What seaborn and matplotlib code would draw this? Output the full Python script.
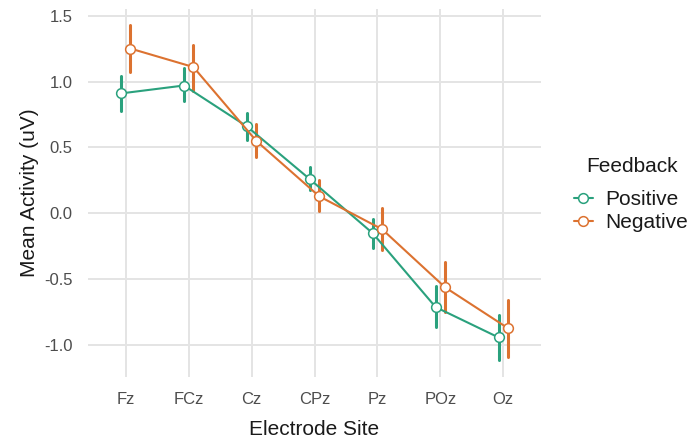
import matplotlib
matplotlib.use("Agg")
import matplotlib.pyplot as plt
from matplotlib.lines import Line2D
import pandas as pd
import seaborn as sns

# Electrode sites and feedback conditions
sites = ["Fz", "FCz", "Cz", "CPz", "Pz", "POz", "Oz"]
conditions = ["Positive", "Negative"]

# Mean activity (uV) with lower/upper error limits per condition
pos_mean = [0.91, 0.97, 0.66, 0.26, -0.15, -0.71, -0.94]
pos_low = [0.78, 0.85, 0.56, 0.18, -0.26, -0.86, -1.11]
pos_high = [1.04, 1.10, 0.76, 0.35, -0.04, -0.55, -0.77]

neg_mean = [1.25, 1.11, 0.55, 0.13, -0.12, -0.56, -0.87]
neg_low = [1.07, 0.93, 0.43, 0.02, -0.28, -0.75, -1.09]
neg_high = [1.43, 1.28, 0.68, 0.25, 0.04, -0.37, -0.66]

colors = ["#2AA17D", "#DC7230"]

# Long table: each site/condition holds its low, mean and high value, so the
# median is the mean and the full-range interval spans the error bar.
rows = []
for cond, lo, mid, hi in [("Positive", pos_low, pos_mean, pos_high),
                          ("Negative", neg_low, neg_mean, neg_high)]:
    for s, a, b, c in zip(sites, lo, mid, hi):
        for v in (a, b, c):
            rows.append({"site": s, "feedback": cond, "value": v})
df = pd.DataFrame(rows)

sns.set_theme(style="white")
plt.rcParams["font.family"] = ["Liberation Sans", "DejaVu Sans"]
plt.rcParams["axes.unicode_minus"] = False

fig = plt.figure(figsize=(6.91, 4.41), dpi=100)
ax = fig.add_axes([88 / 691, 1 - 377 / 441, (541 - 88) / 691, (377 - 9) / 441])

sns.pointplot(
    data=df, x="site", y="value", hue="feedback",
    order=sites, hue_order=conditions, palette=colors,
    estimator="median", errorbar=("pi", 100), dodge=0.15,
    markers="o", linestyles="-", markersize=7, linewidth=1.5,
    markerfacecolor="white", markeredgewidth=1.1, zorder=3,
    err_kws={"linewidth": 2.2, "zorder": 2},
    legend=False, ax=ax,
)

ax.set_xlim(-0.6, 6.6)
ax.set_ylim(-1.24, 1.55)
ax.set_yticks([-1.0, -0.5, 0.0, 0.5, 1.0, 1.5])
ax.set_yticklabels([f"{t:.1f}" for t in [-1.0, -0.5, 0.0, 0.5, 1.0, 1.5]])

ax.grid(True, color="#e4e4e4", linewidth=1.4)
ax.set_axisbelow(True)
for sp in ax.spines.values():
    sp.set_visible(False)
ax.tick_params(axis="both", length=0, pad=11, labelsize=12, labelcolor="#4d4d4d")

ax.set_xlabel("Electrode Site", fontsize=15, color="#1a1a1a", labelpad=9)
ax.set_ylabel("Mean Activity (uV)", fontsize=15, color="#1a1a1a", labelpad=4)

handles = [
    Line2D([], [], color=c, marker="o", markersize=7, markerfacecolor="white",
           markeredgewidth=1.1, linewidth=1.5)
    for c in colors
]
leg = fig.legend(
    handles, conditions, loc="center left",
    bbox_to_anchor=(574 / 691, 1 - 211 / 441), frameon=False,
    fontsize=15, handlelength=0.9,
    handletextpad=0.6, labelspacing=0.2, borderaxespad=0, borderpad=0,
)
for t in leg.get_texts():
    t.set_color("#1a1a1a")
fig.text(632 / 691, 1 - 166 / 441, "Feedback", ha="center", va="center",
         fontsize=15, color="#1a1a1a")

fig.savefig("out.png", dpi=100)
